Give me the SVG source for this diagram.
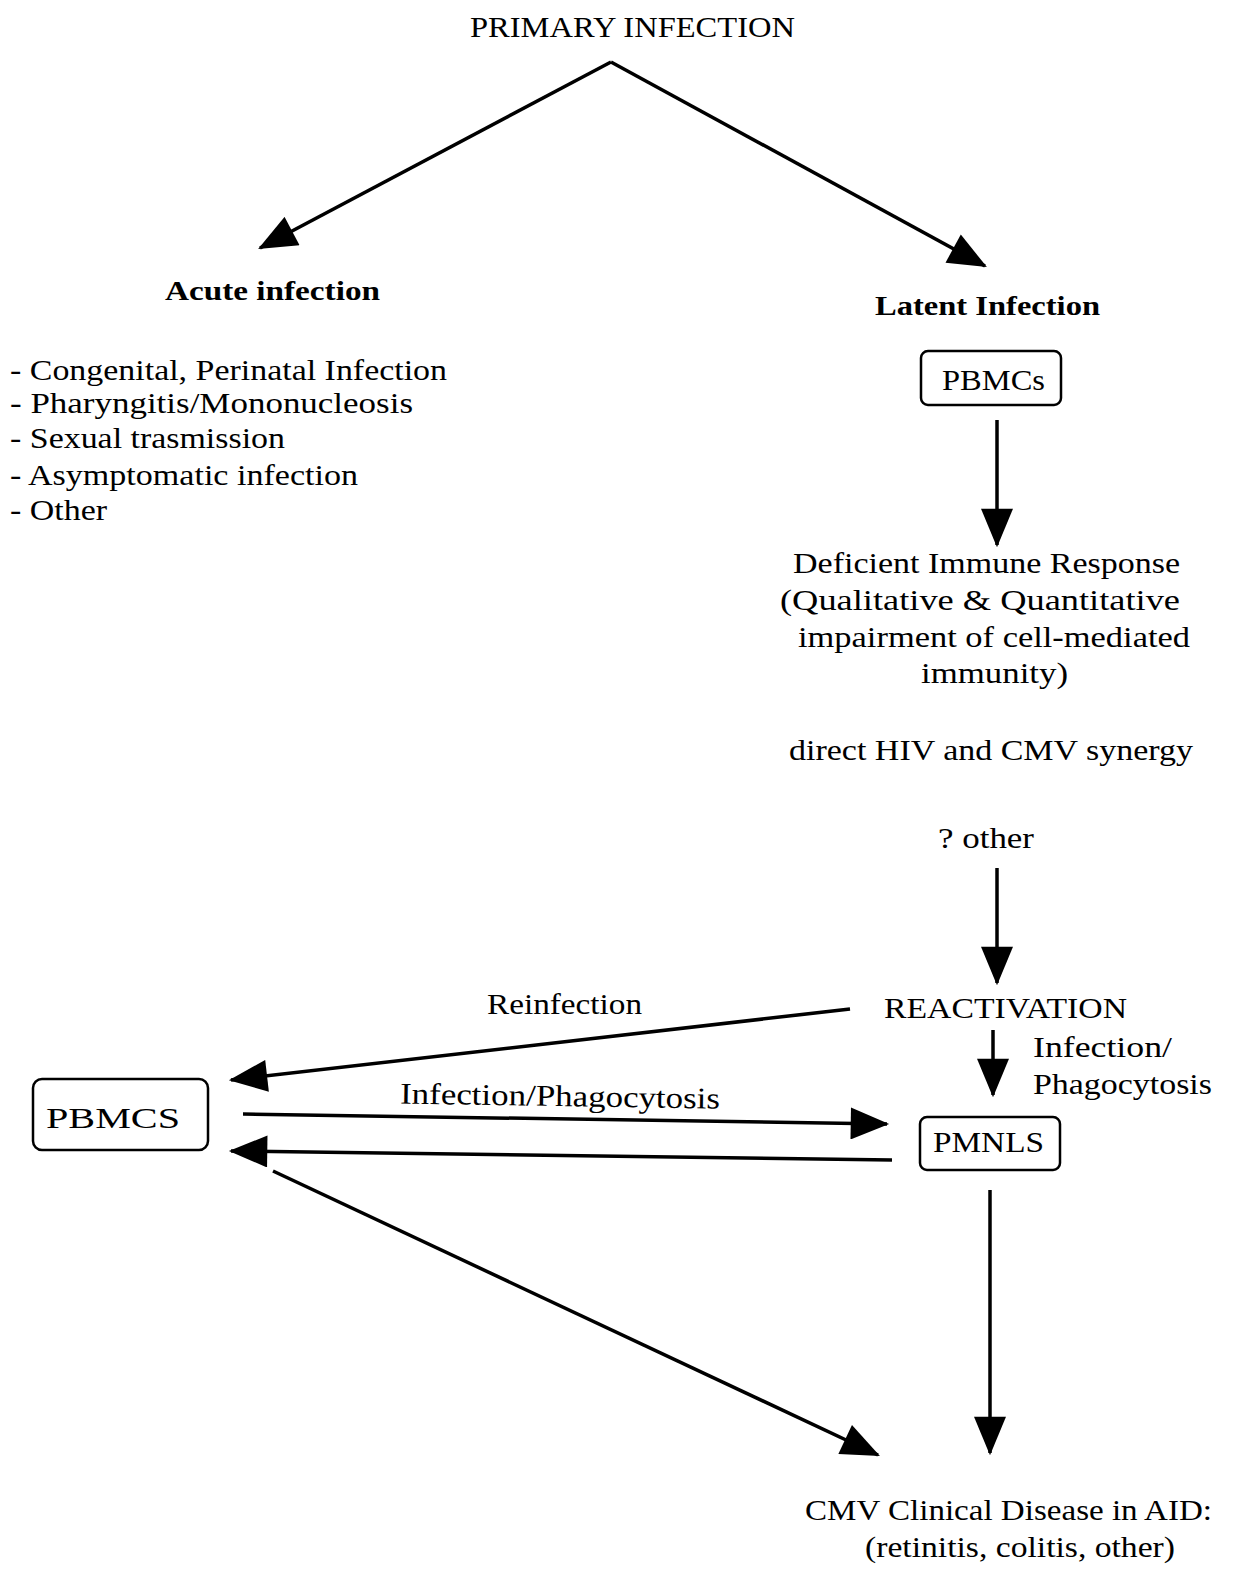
<svg xmlns="http://www.w3.org/2000/svg" width="1237" height="1573" viewBox="0 0 1237 1573">
<style>
text{font-family:"Liberation Serif","DejaVu Serif",serif;font-size:30px;fill:#000}
.b{font-weight:bold;font-size:28px}
.box{fill:none;stroke:#000;stroke-width:2.5}
.c line{stroke:#000;stroke-width:3.5;fill:none}
</style>
<defs>
<marker id="ah" markerUnits="userSpaceOnUse" markerWidth="40" markerHeight="32" viewBox="0 0 36 30" refX="34" refY="15" orient="auto">
<path d="M0,0 L36,15 L0,30 Z" fill="#000"/>
</marker>
</defs>
<rect width="1237" height="1573" fill="#fff"/>
<g id="primary"><text x="470" y="37" textLength="325" lengthAdjust="spacingAndGlyphs">PRIMARY INFECTION</text></g>
<g id="acute">
<text class="b" x="165" y="300" textLength="215" lengthAdjust="spacingAndGlyphs">Acute infection</text>
<text x="10" y="380" textLength="437" lengthAdjust="spacingAndGlyphs">- Congenital, Perinatal Infection</text>
<text x="10" y="413" textLength="403" lengthAdjust="spacingAndGlyphs">- Pharyngitis/Mononucleosis</text>
<text x="10" y="448" textLength="275" lengthAdjust="spacingAndGlyphs">- Sexual trasmission</text>
<text x="10" y="485" textLength="348" lengthAdjust="spacingAndGlyphs">- Asymptomatic infection</text>
<text x="10" y="520" textLength="97" lengthAdjust="spacingAndGlyphs">- Other</text>
</g>
<g id="latent"><text class="b" x="875" y="315" textLength="225" lengthAdjust="spacingAndGlyphs">Latent Infection</text></g>
<g id="pbmcs-top"><rect class="box" x="921" y="351" width="140" height="54" rx="7"/><text x="942" y="390" textLength="103" lengthAdjust="spacingAndGlyphs">PBMCs</text></g>
<g id="deficient">
<text x="793" y="573" textLength="387" lengthAdjust="spacingAndGlyphs">Deficient Immune Response</text>
<text x="780" y="610" textLength="400" lengthAdjust="spacingAndGlyphs">(Qualitative &amp; Quantitative</text>
<text x="798" y="647" textLength="392" lengthAdjust="spacingAndGlyphs">impairment of cell-mediated</text>
<text x="921" y="683" textLength="147" lengthAdjust="spacingAndGlyphs">immunity)</text>
</g>
<g id="synergy"><text x="789" y="760" textLength="404" lengthAdjust="spacingAndGlyphs">direct HIV and CMV synergy</text></g>
<g id="other"><text x="938" y="848" textLength="96" lengthAdjust="spacingAndGlyphs">? other</text></g>
<g id="reactivation"><text x="884" y="1018" textLength="243" lengthAdjust="spacingAndGlyphs">REACTIVATION</text></g>
<g id="pmnls"><rect class="box" x="920" y="1117" width="140" height="53" rx="7"/><text x="933" y="1152" textLength="111" lengthAdjust="spacingAndGlyphs">PMNLS</text></g>
<g id="pbmcs-left"><rect class="box" x="33" y="1079" width="175" height="71" rx="9"/><text x="46" y="1128" font-size="36" textLength="134" lengthAdjust="spacingAndGlyphs">PBMCS</text></g>
<g id="disease">
<text x="805" y="1520" textLength="407" lengthAdjust="spacingAndGlyphs">CMV Clinical Disease in AID:</text>
<text x="865" y="1557" textLength="310" lengthAdjust="spacingAndGlyphs">(retinitis, colitis, other)</text>
</g>
<g id="connectors" class="c">
<line x1="611" y1="62" x2="260" y2="248" marker-end="url(#ah)"/>
<line x1="611" y1="62" x2="985" y2="266" marker-end="url(#ah)"/>
<line x1="997" y1="420" x2="997" y2="545" marker-end="url(#ah)"/>
<line x1="997" y1="868" x2="997" y2="983" marker-end="url(#ah)"/>
<line x1="993" y1="1030" x2="993" y2="1095" marker-end="url(#ah)"/>
<line x1="850" y1="1009" x2="231" y2="1080" marker-end="url(#ah)"/>
<line x1="243" y1="1114" x2="887" y2="1124" marker-end="url(#ah)"/>
<line x1="892" y1="1160" x2="231" y2="1151" marker-end="url(#ah)"/>
<line x1="273" y1="1171" x2="878" y2="1455" marker-end="url(#ah)"/>
<line x1="990" y1="1190" x2="990" y2="1453" marker-end="url(#ah)"/>
</g>
<g id="labels">
<text x="1033" y="1057" textLength="139" lengthAdjust="spacingAndGlyphs">Infection/</text>
<text x="1033" y="1094" textLength="179" lengthAdjust="spacingAndGlyphs">Phagocytosis</text>
<text x="487" y="1014" textLength="155" lengthAdjust="spacingAndGlyphs">Reinfection</text>
<text x="400" y="1106" textLength="320" lengthAdjust="spacingAndGlyphs" transform="rotate(0.9 560 1100)">Infection/Phagocytosis</text>
</g>
</svg>
